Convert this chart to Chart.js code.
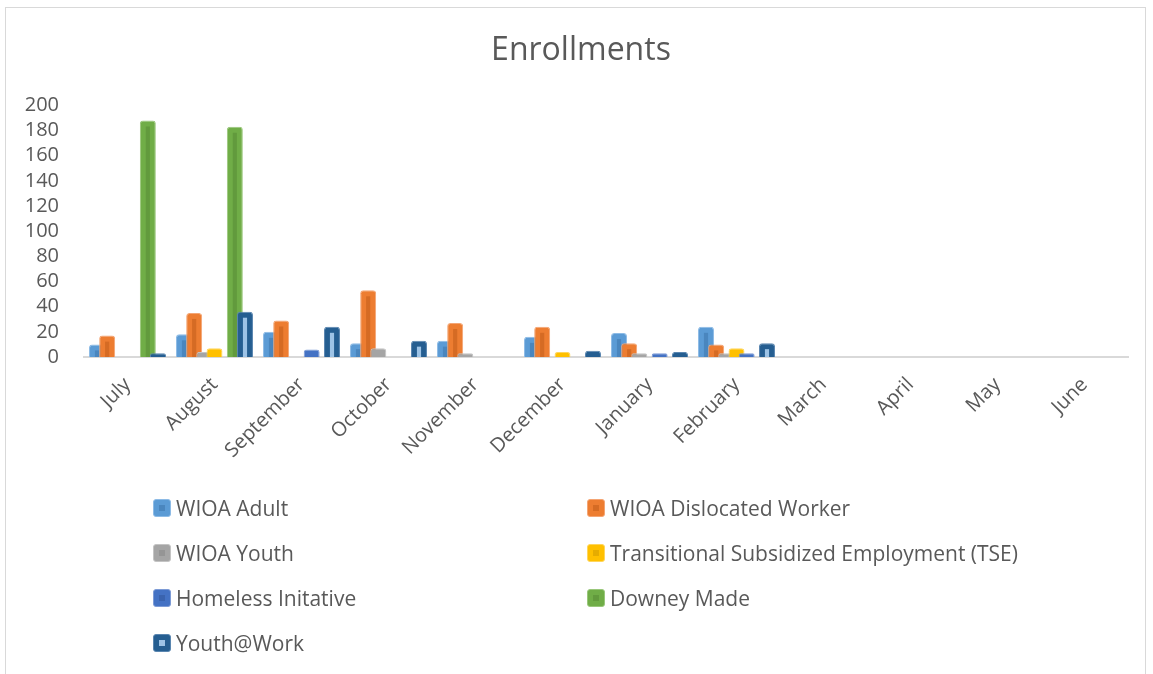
<!DOCTYPE html>
<html>
<head>
<meta charset="utf-8">
<script src="https://cdn.jsdelivr.net/npm/chart.js@4.4.1/dist/chart.umd.min.js"></script>
<style>
  html, body { margin: 0; padding: 0; background: #ffffff; overflow: hidden; }
  #wrap { position: relative; width: 1153px; height: 674px; }
  #frame { position: absolute; left: 5px; top: 7px; width: 1141px; height: 720px; border: 1px solid #d9d9d9; box-sizing: border-box; }
  canvas { position: absolute; left: 0; top: 0; }
  .lg { position: absolute; height: 26px; display: flex; align-items: center; font-family: "Open Sans", sans-serif; font-size: 21px; color: #595959; white-space: nowrap; }
  .lg .mk { width: 18px; height: 18px; border-radius: 3px; margin-right: 5px; position: relative; box-sizing: border-box; }
  .lg .mk i { position: absolute; left: 5px; top: 5px; width: 6px; height: 6px; }
</style>
</head>
<body>
<div id="wrap">
  <div id="frame"></div>
  <canvas id="c" width="1153" height="674"></canvas>
  <div id="legend"></div>
</div>
<script>
const months = ["July","August","September","October","November","December","January","February","March","April","May","June"];
const seriesNames = ["WIOA Adult","WIOA Dislocated Worker","WIOA Youth","Transitional Subsidized Employment (TSE)","Homeless Initative","Downey Made","Youth@Work"];
const wioaAdult      = [10, 18, 20, 11, 13, 16, 19, 24, null, null, null, null];
const wioaDislocated = [17, 35, 29, 53, 27, 24, 11, 10, null, null, null, null];
const wioaYouth      = [0, 4, 0, 7, 3, 0, 3, 3, null, null, null, null];
const tse            = [0, 7, 0, 0, 0, 4, 0, 7, null, null, null, null];
const homeless       = [0, 0, 6, 0, 0, 0, 3, 3, null, null, null, null];
const downeyMade     = [188, 183, 0, 0, 0, 0, 0, 0, null, null, null, null];
const youthAtWork    = [3, 36, 24, 13, 0, 5, 4, 11, null, null, null, null];
const yTicks = { min: 0, max: 200, step: 20 };

const seriesValues = [wioaAdult, wioaDislocated, wioaYouth, tse, homeless, downeyMade, youthAtWork];
const fillColors   = ["#5B9BD5", "#ED7D31", "#A5A5A5", "#FFC000", "#4472C4", "#70AD47", "#255E91"];
const edgeColors   = ["#8DBBE6", "#F4A574", "#C4C4C4", "#FFD65C", "#7D9BD6", "#99C77B", "#5A86B0"];
const stripeColors = ["#4A86BE", "#D56B24", "#959595", "#E6AC00", "#3A63AE", "#629A3D", "#9DC3E6"];

const TEXT = "#595959";
const FONT = "'Open Sans', sans-serif";

const stripePlugin = {
  id: 'orderedStripes',
  beforeDatasetsDraw(chart) {
    const metas = chart.getSortedVisibleDatasetMetas();
    const ctx = chart.ctx;
    for (const meta of metas) {
      chart._drawDataset(meta);
      const col = stripeColors[meta.index];
      ctx.save();
      ctx.fillStyle = col;
      for (const el of meta.data) {
        const p = el.getProps(['x', 'y', 'base', 'width'], true);
        const h = p.base - p.y;
        if (!(h > 10)) continue;
        const w = Math.max(3, p.width * 0.26);
        ctx.fillRect(p.x - w / 2, p.y + 6, w, h - 6);
      }
      ctx.restore();
    }
    return false;
  }
};

const datasets = seriesNames.map((name, i) => ({
  label: name,
  data: seriesValues[i],
  yAxisID: 'y',
  xAxisID: 'x',
  backgroundColor: fillColors[i],
  borderColor: edgeColors[i],
  borderWidth: 1,
  borderSkipped: 'bottom',
  borderRadius: { topLeft: 3, topRight: 3, bottomLeft: 0, bottomRight: 0 },
  categoryPercentage: 0.818,
  barPercentage: 1.57
}));

new Chart(document.getElementById('c'), {
  type: 'bar',
  data: { labels: months, datasets },
  plugins: [stripePlugin],
  options: {
    responsive: false,
    animation: false,
    layout: { padding: { left: 9, right: 0, top: 0, bottom: 0 } },
    plugins: {
      legend: { display: false },
      tooltip: { enabled: false },
      title: {
        display: true,
        text: 'Enrollments',
        color: TEXT,
        font: { family: FONT, size: 32, weight: 'normal' },
        padding: { top: 32, bottom: 35 }
      }
    },
    scales: {
      x: {
        grid: { display: false, drawTicks: false },
        border: { display: true, color: '#d9d9d9', width: 2 },
        ticks: {
          color: TEXT,
          font: { family: FONT, size: 20 },
          minRotation: 45, maxRotation: 45,
          autoSkip: false,
          padding: 16
        },
        afterFit(scale) { scale.height = 674 - 357; }
      },
      y: {
        position: 'left',
        min: yTicks.min, max: yTicks.max,
        grid: { display: false, drawTicks: false },
        border: { display: false },
        ticks: {
          stepSize: yTicks.step,
          autoSkip: false,
          color: TEXT,
          font: { family: FONT, size: 20 },
          padding: 25
        },
        afterFit(scale) { scale.width = 75; }
      },
      yRightSpace: {
        type: 'linear',
        position: 'right',
        display: true,
        grid: { display: false, drawTicks: false },
        border: { display: false },
        ticks: { display: false },
        afterFit(scale) { scale.width = 25; }
      }
    }
  }
});

// HTML legend (two columns) built from the series arrays
const legendPos = { colX: [153, 587], rowY: [508, 553, 598, 643] };
const lg = document.getElementById('legend');
seriesNames.forEach((name, i) => {
  const d = document.createElement('div');
  d.className = 'lg';
  d.style.left = legendPos.colX[i % 2] + 'px';
  d.style.top = (legendPos.rowY[Math.floor(i / 2)] - 13) + 'px';
  const mk = document.createElement('span');
  mk.className = 'mk';
  mk.style.background = fillColors[i];
  mk.style.border = '1px solid ' + edgeColors[i];
  const inner = document.createElement('i');
  inner.style.background = stripeColors[i];
  mk.appendChild(inner);
  d.appendChild(mk);
  d.appendChild(document.createTextNode(name));
  lg.appendChild(d);
});
</script>
</body>
</html>
